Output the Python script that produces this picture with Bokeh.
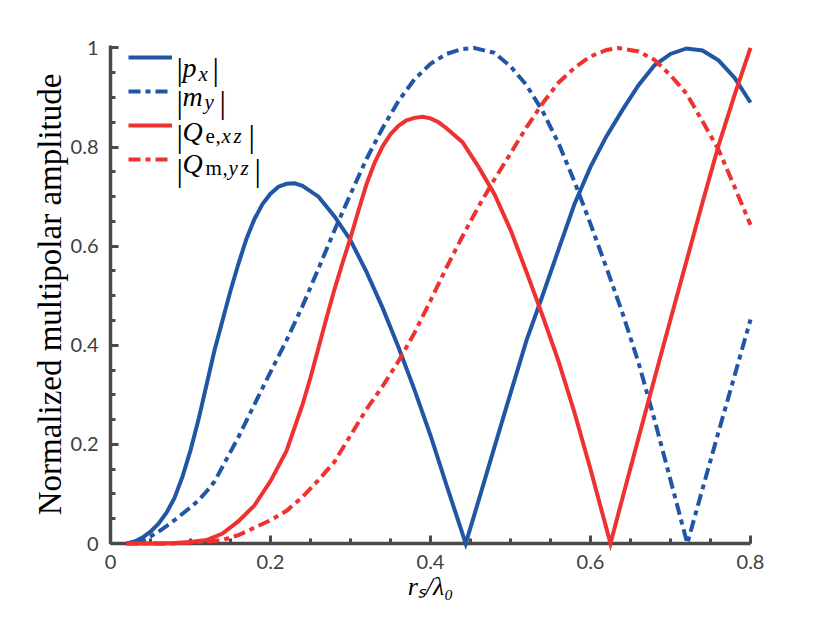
from bokeh.plotting import figure
from bokeh.models import Range1d, Label, Legend, LegendItem, FixedTicker
from bokeh.embed import file_html
from bokeh.resources import INLINE

# ---------------- data ----------------
px_r = [0.02, 0.03, 0.04, 0.05, 0.06, 0.07, 0.08, 0.09, 0.10, 0.11, 0.12, 0.13,
        0.14, 0.15, 0.16, 0.17, 0.18, 0.19, 0.20, 0.21, 0.22, 0.23, 0.24, 0.26,
        0.28, 0.30, 0.32, 0.34, 0.36, 0.38, 0.40, 0.42, 0.444, 0.46, 0.48, 0.50,
        0.52, 0.54, 0.56, 0.58, 0.60, 0.62, 0.64, 0.66, 0.68, 0.70, 0.72, 0.74,
        0.76, 0.78, 0.80]
px_amp = [0.0, 0.004, 0.012, 0.024, 0.040, 0.062, 0.092, 0.135, 0.188, 0.25, 0.32, 0.39,
          0.45, 0.51, 0.565, 0.615, 0.655, 0.685, 0.706, 0.72, 0.726, 0.727, 0.722, 0.70,
          0.66, 0.612, 0.548, 0.476, 0.396, 0.31, 0.218, 0.118, 0.0, 0.086, 0.195, 0.303,
          0.41, 0.50, 0.593, 0.685, 0.76, 0.822, 0.875, 0.925, 0.965, 0.988, 0.999, 0.995,
          0.975, 0.94, 0.89]

my_r = [0.03, 0.04, 0.05, 0.06, 0.07, 0.08, 0.09, 0.10, 0.11, 0.12, 0.13, 0.14,
        0.15, 0.16, 0.18, 0.20, 0.22, 0.24, 0.26, 0.28, 0.30, 0.32, 0.34, 0.36,
        0.38, 0.40, 0.42, 0.44, 0.455, 0.48, 0.50, 0.52, 0.54, 0.56, 0.58, 0.60,
        0.62, 0.64, 0.66, 0.68, 0.70, 0.721, 0.74, 0.76, 0.78, 0.80]
my_amp = [0.0, 0.006, 0.014, 0.024, 0.035, 0.047, 0.060, 0.073, 0.087, 0.105, 0.125, 0.155,
          0.185, 0.215, 0.281, 0.346, 0.41, 0.479, 0.555, 0.632, 0.705, 0.776, 0.838, 0.893,
          0.937, 0.968, 0.988, 0.998, 1.0, 0.99, 0.963, 0.925, 0.873, 0.808, 0.73, 0.645,
          0.556, 0.465, 0.365, 0.25, 0.128, 0.0, 0.11, 0.225, 0.338, 0.452]

qe_r = [0.02, 0.06, 0.08, 0.10, 0.12, 0.14, 0.16, 0.18, 0.20, 0.22, 0.24, 0.25,
        0.26, 0.27, 0.28, 0.29, 0.30, 0.31, 0.32, 0.33, 0.34, 0.35, 0.36, 0.37,
        0.38, 0.39, 0.40, 0.41, 0.42, 0.44, 0.46, 0.48, 0.50, 0.52, 0.54, 0.56,
        0.58, 0.60, 0.625, 0.64, 0.66, 0.68, 0.70, 0.72, 0.74, 0.76, 0.78, 0.80]
qe_amp = [0.0, 0.0, 0.001, 0.003, 0.007, 0.02, 0.045, 0.077, 0.126, 0.187, 0.28, 0.335,
          0.395, 0.455, 0.513, 0.566, 0.617, 0.672, 0.725, 0.768, 0.801, 0.826, 0.843, 0.854,
          0.859, 0.861, 0.858, 0.85, 0.838, 0.810, 0.76, 0.705, 0.633, 0.548, 0.46, 0.368,
          0.264, 0.15, 0.0, 0.092, 0.213, 0.333, 0.452, 0.57, 0.688, 0.803, 0.905, 1.0]

qm_r = [0.02, 0.08, 0.10, 0.12, 0.14, 0.16, 0.18, 0.20, 0.22, 0.24, 0.26, 0.28,
        0.30, 0.32, 0.34, 0.36, 0.38, 0.40, 0.42, 0.44, 0.46, 0.48, 0.50, 0.52,
        0.54, 0.56, 0.58, 0.60, 0.62, 0.635, 0.66, 0.68, 0.70, 0.72, 0.74, 0.76,
        0.78, 0.80]
qm_amp = [0.0, 0.0, 0.002, 0.004, 0.007, 0.017, 0.032, 0.047, 0.066, 0.094, 0.128, 0.165,
          0.218, 0.271, 0.317, 0.368, 0.425, 0.49, 0.557, 0.62, 0.68, 0.735, 0.787, 0.84,
          0.888, 0.93, 0.96, 0.983, 0.996, 1.0, 0.993, 0.976, 0.945, 0.908, 0.852, 0.795,
          0.72, 0.643]

x_ticks = [0, 0.2, 0.4, 0.6, 0.8]
x_tick_labels = ["0", "0.2", "0.4", "0.6", "0.8"]
y_ticks = [0, 0.2, 0.4, 0.6, 0.8, 1]
y_tick_labels = ["0", "0.2", "0.4", "0.6", "0.8", "1"]
x_minor = [round(0.05 * i, 2) for i in range(17)]
y_minor = [round(0.05 * i, 2) for i in range(21)]

x_title = "rₛ/λ₀"
y_title = "Normalized multipolar amplitude"

# ---------------- styling / layout ----------------
BLUE = "#2156a5"
RED = "#ee3131"
AXIS = "#4a4a4a"
DASHDOT = "12 5 5 5"

W, H = 815, 608
FL, FT, FW, FH = 110, 45, 640, 498
FR, FB = W - FL - FW, H - FT - FH
X0, X1 = 0.0, 0.8
Y0, Y1 = 0.0, 1.005

p = figure(frame_width=FW, frame_height=FH,
           min_border_left=FL, min_border_right=FR,
           min_border_top=FT, min_border_bottom=FB,
           x_range=Range1d(X0, X1), y_range=Range1d(Y0, Y1),
           output_backend="svg", toolbar_location=None,
           background_fill_color="white", border_fill_color="white")
p.outline_line_color = None
p.grid.visible = False

for ax, ticks, minor, labels in ((p.xaxis, x_ticks, x_minor, x_tick_labels),
                                 (p.yaxis, y_ticks, y_minor, y_tick_labels)):
    ax.ticker = FixedTicker(ticks=ticks, minor_ticks=minor)
    ax.major_label_overrides = dict(zip(ticks, labels))
    ax.axis_line_color = AXIS
    ax.axis_line_width = 3.5
    ax.major_tick_line_color = AXIS
    ax.minor_tick_line_color = AXIS
    ax.major_tick_line_width = 3
    ax.minor_tick_line_width = 3
    ax.major_tick_in = 8
    ax.major_tick_out = 0
    ax.minor_tick_in = 5
    ax.minor_tick_out = 0
    ax.major_label_text_font = "Lato"
    ax.major_label_text_font_size = "20px"
    ax.major_label_text_color = "#404040"
    ax.axis_label_text_font = "Liberation Serif"
    ax.axis_label_text_color = "black"
    ax.axis_label_standoff = 0
p.xaxis.major_label_standoff = 11
p.yaxis.major_label_standoff = 12

p.yaxis.axis_label = y_title
p.yaxis.axis_label_text_font_size = "33px"
p.yaxis.axis_label_text_font_style = "normal"

p.xaxis.axis_label = x_title
p.xaxis.axis_label_text_font_size = "26px"
p.xaxis.axis_label_text_font_style = "italic"

lw = 4
r1 = p.line(px_r, px_amp, line_color=BLUE, line_width=lw, line_join="miter")
r2 = p.line(my_r, my_amp, line_color=BLUE, line_width=lw, line_dash=DASHDOT, line_join="miter")
r3 = p.line(qe_r, qe_amp, line_color=RED, line_width=lw, line_join="miter")
r4 = p.line(qm_r, qm_amp, line_color=RED, line_width=lw, line_dash=DASHDOT, line_join="miter")
for r in (r1, r2, r3, r4):
    r.level = "overlay"

legend = Legend(items=[LegendItem(label=" ", renderers=[r]) for r in (r1, r2, r3, r4)],
                location=(18, FH - 131), glyph_width=44, glyph_height=34, label_height=34,
                spacing=0, padding=0, margin=0, label_standoff=2, label_width=2,
                border_line_color=None, background_fill_alpha=0,
                label_text_font_size="8px")
p.add_layout(legend)


def dx(px):
    return X0 + (px - FL) / FW * (X1 - X0)


def dy(py):
    return Y1 - (py - FT) / FH * (Y1 - Y0)


def put(text, px, py, size, italic=False, font="Liberation Serif", color="black"):
    p.add_layout(Label(x=dx(px), y=dy(py), text=text, text_font=font,
                       text_font_size=f"{size}px",
                       text_font_style="italic" if italic else "normal",
                       text_align="left", text_baseline="alphabetic",
                       text_color=color))


# legend texts (math-like)
MAIN, SUB, BAR = 28, 21, 32
rows = [
    (67, 73, 68, [("p", 182, True, MAIN, False), ("x", 198, True, SUB, True)], 212),
    (96, 101, 101, [("m", 182, True, MAIN, False), ("y", 204, True, SUB, True)], 219),
    (131, 135, 135, [("Q", 182, True, MAIN, False), ("e", 205, False, SUB, True),
                     (",", 215, False, SUB, True), ("x", 221, True, SUB, True),
                     ("z", 233, True, SUB, True)], 248),
    (163, 167, 169, [("Q", 182, True, MAIN, False), ("m", 205, False, SUB, True),
                     (",", 222, False, SUB, True), ("y", 228, True, SUB, True),
                     ("z", 240, True, SUB, True)], 254),
]
for base, sub_base, bar_base, parts, bar_x in rows:
    put("|", 176, bar_base, BAR)
    for t, x, it, sz, is_sub in parts:
        put(t, x, sub_base if is_sub else base, sz, italic=it)
    put("|", bar_x, bar_base, BAR)

open("out.html", "w").write(file_html(p, INLINE))
